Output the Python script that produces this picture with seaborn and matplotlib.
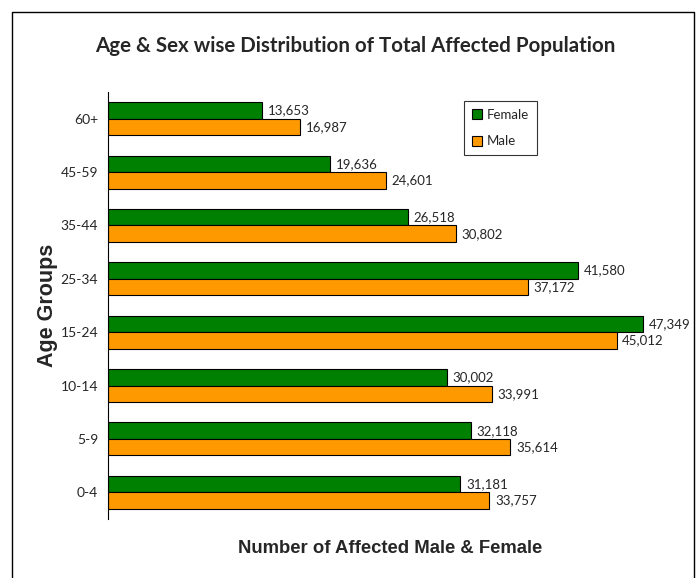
import matplotlib
matplotlib.use("Agg")
import matplotlib.pyplot as plt
from matplotlib.patches import Patch
import seaborn as sns
import pandas as pd

# data
age_groups = ["60+", "45-59", "35-44", "25-34", "15-24", "10-14", "5-9", "0-4"]
female = [13653, 19636, 26518, 41580, 47349, 30002, 32118, 31181]
male = [16987, 24601, 30802, 37172, 45012, 33991, 35614, 33757]

df = pd.DataFrame({
    "Age": age_groups * 2,
    "Sex": ["Female"] * len(age_groups) + ["Male"] * len(age_groups),
    "Count": female + male,
})

sns.set_style("white")
plt.rcParams["font.family"] = ["Lato", "DejaVu Sans"]

colors = {"Female": "#008000", "Male": "#FF9900"}

fig = plt.figure(figsize=(6.99, 5.78), dpi=100)
ax = fig.add_axes([108 / 699, 1 - 519 / 578, (673 - 108) / 699, (519 - 92) / 578])

sns.barplot(data=df, y="Age", x="Count", hue="Sex", order=age_groups,
            hue_order=["Female", "Male"], palette=colors, orient="h",
            width=0.62, saturation=1, edgecolor="black", linewidth=0.8,
            ax=ax, legend=False)

for cont in ax.containers:
    ax.bar_label(cont, labels=[f"{int(v):,}" for v in cont.datavalues],
                 padding=4, fontsize=9.5)

ax.set_xlim(0, 50000)
ax.set_ylim(7.5, -0.5)
ax.set_xticks([])
ax.tick_params(axis="y", length=0, labelsize=10, pad=7)
for s in ["top", "right", "bottom"]:
    ax.spines[s].set_visible(False)
ax.spines["left"].set_color("black")
ax.spines["left"].set_linewidth(0.8)

ax.set_xlabel("Number of Affected Male & Female", fontsize=13.3, fontweight="bold",
              family=["Liberation Sans", "DejaVu Sans"], labelpad=15)
ax.set_ylabel("Age Groups", fontsize=15.5, fontweight="bold",
              family=["Liberation Sans", "DejaVu Sans"], labelpad=2)

fig.text(355 / 699, 1 - 46 / 578, "Age & Sex wise Distribution of Total Affected Population",
         ha="center", va="center", fontsize=14.8, fontweight="bold")

handles = [Patch(facecolor=colors[k], edgecolor="black", linewidth=0.8, label=k)
           for k in ["Female", "Male"]]
leg = ax.legend(handles=handles, loc="upper left", bbox_to_anchor=(0.630, 0.979),
                borderaxespad=0, fontsize=9.5, frameon=True, fancybox=False,
                handlelength=0.75, handleheight=0.75, handletextpad=0.35,
                labelspacing=1.1, borderpad=0.6)
leg.get_frame().set_edgecolor("black")
leg.get_frame().set_linewidth(0.8)

# outer frame around the chart
x0, x1, y0 = 12 / 699, 694 / 699, 1 - 12 / 578
fig.add_artist(plt.Line2D([x0, x0, x1, x1], [0, y0, y0, 0], color="black",
                          linewidth=1, transform=fig.transFigure))

fig.savefig("out.png", dpi=100)
